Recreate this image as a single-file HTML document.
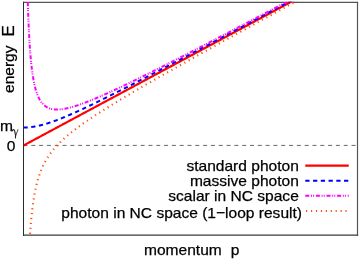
<!DOCTYPE html>
<html><head><meta charset="utf-8"><style>
html,body{margin:0;padding:0;background:#fff;}
svg{display:block;will-change:transform}
text{font-family:"Liberation Sans",sans-serif;font-size:15.55px;fill:#000;stroke:#000;stroke-width:0.25px}
</style></head><body>
<svg width="359" height="260" viewBox="0 0 359 260">
<defs><clipPath id="c"><rect x="23.5" y="1.6999999999999997" width="334.0" height="233.49999999999997"/></clipPath></defs>
<rect width="359" height="260" fill="#fff"/>
<g fill="none">
<path d="M23.0 2.3499999999999996 H358.1" stroke="#555" stroke-width="1.2"/>
<path d="M357.5 1.7999999999999998 V235.79999999999998" stroke="#555" stroke-width="1.2"/>
<path d="M23.0 235.14999999999998 H358.1" stroke="#3a3a3a" stroke-width="1.2"/>
<path d="M23.5 1.7999999999999998 V235.79999999999998" stroke="#2a2a2a" stroke-width="1"/>
</g>
<g clip-path="url(#c)" fill="none" stroke-linejoin="round">
<path d="M23.5 145.4 H357.5" stroke="#000" stroke-opacity="0.6" stroke-width="1" stroke-dasharray="4 3.81"/>
<path d="M23.50 145.50 L24.00 145.23 L24.50 144.96 L25.00 144.69 L25.50 144.43 L26.00 144.16 L26.50 143.89 L27.00 143.62 L27.50 143.35 L28.00 143.08 L28.50 142.81 L29.00 142.55 L29.50 142.28 L30.00 142.01 L30.50 141.74 L31.00 141.47 L31.50 141.20 L32.00 140.94 L32.50 140.67 L33.00 140.40 L33.50 140.13 L34.00 139.86 L34.50 139.59 L35.00 139.32 L35.50 139.06 L36.00 138.79 L36.50 138.52 L37.00 138.25 L37.50 137.98 L38.00 137.71 L38.50 137.44 L39.00 137.18 L39.50 136.91 L40.00 136.64 L40.50 136.37 L41.00 136.10 L41.50 135.83 L42.00 135.57 L42.50 135.30 L43.00 135.03 L43.50 134.76 L44.00 134.49 L44.50 134.22 L45.00 133.95 L45.50 133.69 L46.00 133.42 L46.50 133.15 L47.00 132.88 L47.50 132.61 L48.00 132.34 L48.50 132.07 L49.00 131.81 L49.50 131.54 L50.00 131.27 L50.50 131.00 L51.00 130.73 L51.50 130.46 L52.00 130.20 L52.50 129.93 L53.00 129.66 L53.50 129.39 L54.00 129.12 L54.50 128.85 L55.00 128.58 L55.50 128.32 L56.00 128.05 L56.50 127.78 L57.00 127.51 L57.50 127.24 L58.00 126.97 L58.50 126.70 L59.00 126.44 L59.50 126.17 L60.00 125.90 L60.50 125.63 L61.00 125.36 L61.50 125.09 L62.00 124.83 L62.50 124.56 L63.00 124.29 L63.50 124.02 L64.00 123.75 L64.50 123.48 L65.00 123.21 L65.50 122.95 L66.00 122.68 L66.50 122.41 L67.00 122.14 L67.50 121.87 L68.00 121.60 L68.50 121.33 L69.00 121.07 L69.50 120.80 L70.00 120.53 L70.50 120.26 L71.00 119.99 L71.50 119.72 L72.00 119.46 L72.50 119.19 L73.00 118.92 L73.50 118.65 L74.00 118.38 L74.50 118.11 L75.00 117.84 L75.50 117.58 L76.00 117.31 L76.50 117.04 L77.00 116.77 L77.50 116.50 L78.00 116.23 L78.50 115.97 L79.00 115.70 L79.50 115.43 L80.00 115.16 L80.50 114.89 L81.00 114.62 L81.50 114.35 L82.00 114.09 L82.50 113.82 L83.00 113.55 L83.50 113.28 L84.00 113.01 L84.50 112.74 L85.00 112.47 L85.50 112.21 L86.00 111.94 L86.50 111.67 L87.00 111.40 L87.50 111.13 L88.00 110.86 L88.50 110.59 L89.00 110.33 L89.50 110.06 L90.00 109.79 L90.50 109.52 L91.00 109.25 L91.50 108.98 L92.00 108.72 L92.50 108.45 L93.00 108.18 L93.50 107.91 L94.00 107.64 L94.50 107.37 L95.00 107.10 L95.50 106.84 L96.00 106.57 L96.50 106.30 L97.00 106.03 L97.50 105.76 L98.00 105.49 L98.50 105.22 L99.00 104.96 L99.50 104.69 L100.00 104.42 L100.50 104.15 L101.00 103.88 L101.50 103.61 L102.00 103.35 L102.50 103.08 L103.00 102.81 L103.50 102.54 L104.00 102.27 L104.50 102.00 L105.00 101.73 L105.50 101.47 L106.00 101.20 L106.50 100.93 L107.00 100.66 L107.50 100.39 L108.00 100.12 L108.50 99.85 L109.00 99.59 L109.50 99.32 L110.00 99.05 L110.50 98.78 L111.00 98.51 L111.50 98.24 L112.00 97.98 L112.50 97.71 L113.00 97.44 L113.50 97.17 L114.00 96.90 L114.50 96.63 L115.00 96.36 L115.50 96.10 L116.00 95.83 L116.50 95.56 L117.00 95.29 L117.50 95.02 L118.00 94.75 L118.50 94.48 L119.00 94.22 L119.50 93.95 L120.00 93.68 L120.50 93.41 L121.00 93.14 L121.50 92.87 L122.00 92.61 L122.50 92.34 L123.00 92.07 L123.50 91.80 L124.00 91.53 L124.50 91.26 L125.00 90.99 L125.50 90.73 L126.00 90.46 L126.50 90.19 L127.00 89.92 L127.50 89.65 L128.00 89.38 L128.50 89.11 L129.00 88.85 L129.50 88.58 L130.00 88.31 L130.50 88.04 L131.00 87.77 L131.50 87.50 L132.00 87.24 L132.50 86.97 L133.00 86.70 L133.50 86.43 L134.00 86.16 L134.50 85.89 L135.00 85.62 L135.50 85.36 L136.00 85.09 L136.50 84.82 L137.00 84.55 L137.50 84.28 L138.00 84.01 L138.50 83.75 L139.00 83.48 L139.50 83.21 L140.00 82.94 L140.50 82.67 L141.00 82.40 L141.50 82.13 L142.00 81.87 L142.50 81.60 L143.00 81.33 L143.50 81.06 L144.00 80.79 L144.50 80.52 L145.00 80.25 L145.50 79.99 L146.00 79.72 L146.50 79.45 L147.00 79.18 L147.50 78.91 L148.00 78.64 L148.50 78.38 L149.00 78.11 L149.50 77.84 L150.00 77.57 L150.50 77.30 L151.00 77.03 L151.50 76.76 L152.00 76.50 L152.50 76.23 L153.00 75.96 L153.50 75.69 L154.00 75.42 L154.50 75.15 L155.00 74.88 L155.50 74.62 L156.00 74.35 L156.50 74.08 L157.00 73.81 L157.50 73.54 L158.00 73.27 L158.50 73.00 L159.00 72.74 L159.50 72.47 L160.00 72.20 L160.50 71.93 L161.00 71.66 L161.50 71.39 L162.00 71.13 L162.50 70.86 L163.00 70.59 L163.50 70.32 L164.00 70.05 L164.50 69.78 L165.00 69.51 L165.50 69.25 L166.00 68.98 L166.50 68.71 L167.00 68.44 L167.50 68.17 L168.00 67.90 L168.50 67.63 L169.00 67.37 L169.50 67.10 L170.00 66.83 L170.50 66.56 L171.00 66.29 L171.50 66.02 L172.00 65.76 L172.50 65.49 L173.00 65.22 L173.50 64.95 L174.00 64.68 L174.50 64.41 L175.00 64.14 L175.50 63.88 L176.00 63.61 L176.50 63.34 L177.00 63.07 L177.50 62.80 L178.00 62.53 L178.50 62.27 L179.00 62.00 L179.50 61.73 L180.00 61.46 L180.50 61.19 L181.00 60.92 L181.50 60.65 L182.00 60.39 L182.50 60.12 L183.00 59.85 L183.50 59.58 L184.00 59.31 L184.50 59.04 L185.00 58.77 L185.50 58.51 L186.00 58.24 L186.50 57.97 L187.00 57.70 L187.50 57.43 L188.00 57.16 L188.50 56.89 L189.00 56.63 L189.50 56.36 L190.00 56.09 L190.50 55.82 L191.00 55.55 L191.50 55.28 L192.00 55.02 L192.50 54.75 L193.00 54.48 L193.50 54.21 L194.00 53.94 L194.50 53.67 L195.00 53.40 L195.50 53.14 L196.00 52.87 L196.50 52.60 L197.00 52.33 L197.50 52.06 L198.00 51.79 L198.50 51.52 L199.00 51.26 L199.50 50.99 L200.00 50.72 L200.50 50.45 L201.00 50.18 L201.50 49.91 L202.00 49.65 L202.50 49.38 L203.00 49.11 L203.50 48.84 L204.00 48.57 L204.50 48.30 L205.00 48.03 L205.50 47.77 L206.00 47.50 L206.50 47.23 L207.00 46.96 L207.50 46.69 L208.00 46.42 L208.50 46.15 L209.00 45.89 L209.50 45.62 L210.00 45.35 L210.50 45.08 L211.00 44.81 L211.50 44.54 L212.00 44.28 L212.50 44.01 L213.00 43.74 L213.50 43.47 L214.00 43.20 L214.50 42.93 L215.00 42.66 L215.50 42.40 L216.00 42.13 L216.50 41.86 L217.00 41.59 L217.50 41.32 L218.00 41.05 L218.50 40.78 L219.00 40.52 L219.50 40.25 L220.00 39.98 L220.50 39.71 L221.00 39.44 L221.50 39.17 L222.00 38.91 L222.50 38.64 L223.00 38.37 L223.50 38.10 L224.00 37.83 L224.50 37.56 L225.00 37.29 L225.50 37.03 L226.00 36.76 L226.50 36.49 L227.00 36.22 L227.50 35.95 L228.00 35.68 L228.50 35.41 L229.00 35.15 L229.50 34.88 L230.00 34.61 L230.50 34.34 L231.00 34.07 L231.50 33.80 L232.00 33.54 L232.50 33.27 L233.00 33.00 L233.50 32.73 L234.00 32.46 L234.50 32.19 L235.00 31.92 L235.50 31.66 L236.00 31.39 L236.50 31.12 L237.00 30.85 L237.50 30.58 L238.00 30.31 L238.50 30.04 L239.00 29.78 L239.50 29.51 L240.00 29.24 L240.50 28.97 L241.00 28.70 L241.50 28.43 L242.00 28.17 L242.50 27.90 L243.00 27.63 L243.50 27.36 L244.00 27.09 L244.50 26.82 L245.00 26.55 L245.50 26.29 L246.00 26.02 L246.50 25.75 L247.00 25.48 L247.50 25.21 L248.00 24.94 L248.50 24.67 L249.00 24.41 L249.50 24.14 L250.00 23.87 L250.50 23.60 L251.00 23.33 L251.50 23.06 L252.00 22.80 L252.50 22.53 L253.00 22.26 L253.50 21.99 L254.00 21.72 L254.50 21.45 L255.00 21.18 L255.50 20.92 L256.00 20.65 L256.50 20.38 L257.00 20.11 L257.50 19.84 L258.00 19.57 L258.50 19.30 L259.00 19.04 L259.50 18.77 L260.00 18.50 L260.50 18.23 L261.00 17.96 L261.50 17.69 L262.00 17.43 L262.50 17.16 L263.00 16.89 L263.50 16.62 L264.00 16.35 L264.50 16.08 L265.00 15.81 L265.50 15.55 L266.00 15.28 L266.50 15.01 L267.00 14.74 L267.50 14.47 L268.00 14.20 L268.50 13.94 L269.00 13.67 L269.50 13.40 L270.00 13.13 L270.50 12.86 L271.00 12.59 L271.50 12.32 L272.00 12.06 L272.50 11.79 L273.00 11.52 L273.50 11.25 L274.00 10.98 L274.50 10.71 L275.00 10.44 L275.50 10.18 L276.00 9.91 L276.50 9.64 L277.00 9.37 L277.50 9.10 L278.00 8.83 L278.50 8.56 L279.00 8.30 L279.50 8.03 L280.00 7.76 L280.50 7.49 L281.00 7.22 L281.50 6.95 L282.00 6.69 L282.50 6.42 L283.00 6.15 L283.50 5.88 L284.00 5.61 L284.50 5.34 L285.00 5.07 L285.50 4.81 L286.00 4.54 L286.50 4.27 L287.00 4.00 L287.50 3.73 L288.00 3.46 L288.50 3.19 L289.00 2.93 L289.50 2.66 L290.00 2.39 L290.50 2.12 L291.00 1.85 L291.50 1.58 L292.00 1.32 L292.50 1.05 L293.00 0.78 L293.50 0.51 L294.00 0.24 L294.50 -0.03 L295.00 -0.30 L295.50 -0.56 L296.00 -0.83 L296.50 -1.10 L297.00 -1.37 L297.50 -1.64 L298.00 -1.91 L298.50 -2.18 L299.00 -2.44 L299.50 -2.71 L300.00 -2.98" stroke="#ff0000" stroke-width="2.15"/>
<path d="M23.50 127.51 L24.00 127.51 L24.50 127.50 L25.00 127.49 L25.50 127.48 L26.00 127.46 L26.50 127.44 L27.00 127.41 L27.50 127.38 L28.00 127.35 L28.50 127.31 L29.00 127.27 L29.50 127.22 L30.00 127.17 L30.50 127.12 L31.00 127.07 L31.50 127.00 L32.00 126.94 L32.50 126.87 L33.00 126.80 L33.50 126.73 L34.00 126.65 L34.50 126.57 L35.00 126.48 L35.50 126.39 L36.00 126.30 L36.50 126.20 L37.00 126.10 L37.50 126.00 L38.00 125.90 L38.50 125.79 L39.00 125.68 L39.50 125.56 L40.00 125.45 L40.50 125.33 L41.00 125.20 L41.50 125.08 L42.00 124.95 L42.50 124.82 L43.00 124.68 L43.50 124.55 L44.00 124.41 L44.50 124.27 L45.00 124.12 L45.50 123.98 L46.00 123.83 L46.50 123.68 L47.00 123.53 L47.50 123.37 L48.00 123.21 L48.50 123.05 L49.00 122.89 L49.50 122.73 L50.00 122.56 L50.50 122.39 L51.00 122.23 L51.50 122.05 L52.00 121.88 L52.50 121.71 L53.00 121.53 L53.50 121.35 L54.00 121.17 L54.50 120.99 L55.00 120.81 L55.50 120.62 L56.00 120.44 L56.50 120.25 L57.00 120.06 L57.50 119.87 L58.00 119.68 L58.50 119.48 L59.00 119.29 L59.50 119.09 L60.00 118.90 L60.50 118.70 L61.00 118.50 L61.50 118.30 L62.00 118.09 L62.50 117.89 L63.00 117.69 L63.50 117.48 L64.00 117.28 L64.50 117.07 L65.00 116.86 L65.50 116.65 L66.00 116.44 L66.50 116.23 L67.00 116.02 L67.50 115.80 L68.00 115.59 L68.50 115.37 L69.00 115.16 L69.50 114.94 L70.00 114.72 L70.50 114.51 L71.00 114.29 L71.50 114.07 L72.00 113.85 L72.50 113.63 L73.00 113.40 L73.50 113.18 L74.00 112.96 L74.50 112.73 L75.00 112.51 L75.50 112.28 L76.00 112.06 L76.50 111.83 L77.00 111.60 L77.50 111.38 L78.00 111.15 L78.50 110.92 L79.00 110.69 L79.50 110.46 L80.00 110.23 L80.50 110.00 L81.00 109.76 L81.50 109.53 L82.00 109.30 L82.50 109.07 L83.00 108.83 L83.50 108.60 L84.00 108.36 L84.50 108.13 L85.00 107.89 L85.50 107.66 L86.00 107.42 L86.50 107.18 L87.00 106.95 L87.50 106.71 L88.00 106.47 L88.50 106.23 L89.00 105.99 L89.50 105.75 L90.00 105.51 L90.50 105.27 L91.00 105.03 L91.50 104.79 L92.00 104.55 L92.50 104.31 L93.00 104.07 L93.50 103.83 L94.00 103.58 L94.50 103.34 L95.00 103.10 L95.50 102.86 L96.00 102.61 L96.50 102.37 L97.00 102.12 L97.50 101.88 L98.00 101.63 L98.50 101.39 L99.00 101.14 L99.50 100.90 L100.00 100.65 L100.50 100.41 L101.00 100.16 L101.50 99.91 L102.00 99.67 L102.50 99.42 L103.00 99.17 L103.50 98.93 L104.00 98.68 L104.50 98.43 L105.00 98.18 L105.50 97.93 L106.00 97.68 L106.50 97.44 L107.00 97.19 L107.50 96.94 L108.00 96.69 L108.50 96.44 L109.00 96.19 L109.50 95.94 L110.00 95.69 L110.50 95.44 L111.00 95.19 L111.50 94.94 L112.00 94.68 L112.50 94.43 L113.00 94.18 L113.50 93.93 L114.00 93.68 L114.50 93.43 L115.00 93.17 L115.50 92.92 L116.00 92.67 L116.50 92.42 L117.00 92.17 L117.50 91.91 L118.00 91.66 L118.50 91.41 L119.00 91.15 L119.50 90.90 L120.00 90.65 L120.50 90.39 L121.00 90.14 L121.50 89.88 L122.00 89.63 L122.50 89.38 L123.00 89.12 L123.50 88.87 L124.00 88.61 L124.50 88.36 L125.00 88.10 L125.50 87.85 L126.00 87.59 L126.50 87.34 L127.00 87.08 L127.50 86.83 L128.00 86.57 L128.50 86.31 L129.00 86.06 L129.50 85.80 L130.00 85.55 L130.50 85.29 L131.00 85.03 L131.50 84.78 L132.00 84.52 L132.50 84.26 L133.00 84.01 L133.50 83.75 L134.00 83.49 L134.50 83.24 L135.00 82.98 L135.50 82.72 L136.00 82.47 L136.50 82.21 L137.00 81.95 L137.50 81.69 L138.00 81.44 L138.50 81.18 L139.00 80.92 L139.50 80.66 L140.00 80.40 L140.50 80.15 L141.00 79.89 L141.50 79.63 L142.00 79.37 L142.50 79.11 L143.00 78.85 L143.50 78.60 L144.00 78.34 L144.50 78.08 L145.00 77.82 L145.50 77.56 L146.00 77.30 L146.50 77.04 L147.00 76.78 L147.50 76.52 L148.00 76.27 L148.50 76.01 L149.00 75.75 L149.50 75.49 L150.00 75.23 L150.50 74.97 L151.00 74.71 L151.50 74.45 L152.00 74.19 L152.50 73.93 L153.00 73.67 L153.50 73.41 L154.00 73.15 L154.50 72.89 L155.00 72.63 L155.50 72.37 L156.00 72.11 L156.50 71.85 L157.00 71.59 L157.50 71.33 L158.00 71.07 L158.50 70.81 L159.00 70.55 L159.50 70.29 L160.00 70.02 L160.50 69.76 L161.00 69.50 L161.50 69.24 L162.00 68.98 L162.50 68.72 L163.00 68.46 L163.50 68.20 L164.00 67.94 L164.50 67.68 L165.00 67.41 L165.50 67.15 L166.00 66.89 L166.50 66.63 L167.00 66.37 L167.50 66.11 L168.00 65.85 L168.50 65.58 L169.00 65.32 L169.50 65.06 L170.00 64.80 L170.50 64.54 L171.00 64.28 L171.50 64.01 L172.00 63.75 L172.50 63.49 L173.00 63.23 L173.50 62.97 L174.00 62.70 L174.50 62.44 L175.00 62.18 L175.50 61.92 L176.00 61.65 L176.50 61.39 L177.00 61.13 L177.50 60.87 L178.00 60.61 L178.50 60.34 L179.00 60.08 L179.50 59.82 L180.00 59.56 L180.50 59.29 L181.00 59.03 L181.50 58.77 L182.00 58.51 L182.50 58.24 L183.00 57.98 L183.50 57.72 L184.00 57.45 L184.50 57.19 L185.00 56.93 L185.50 56.67 L186.00 56.40 L186.50 56.14 L187.00 55.88 L187.50 55.61 L188.00 55.35 L188.50 55.09 L189.00 54.82 L189.50 54.56 L190.00 54.30 L190.50 54.03 L191.00 53.77 L191.50 53.51 L192.00 53.24 L192.50 52.98 L193.00 52.72 L193.50 52.45 L194.00 52.19 L194.50 51.93 L195.00 51.66 L195.50 51.40 L196.00 51.14 L196.50 50.87 L197.00 50.61 L197.50 50.35 L198.00 50.08 L198.50 49.82 L199.00 49.55 L199.50 49.29 L200.00 49.03 L200.50 48.76 L201.00 48.50 L201.50 48.24 L202.00 47.97 L202.50 47.71 L203.00 47.44 L203.50 47.18 L204.00 46.92 L204.50 46.65 L205.00 46.39 L205.50 46.12 L206.00 45.86 L206.50 45.60 L207.00 45.33 L207.50 45.07 L208.00 44.80 L208.50 44.54 L209.00 44.28 L209.50 44.01 L210.00 43.75 L210.50 43.48 L211.00 43.22 L211.50 42.95 L212.00 42.69 L212.50 42.43 L213.00 42.16 L213.50 41.90 L214.00 41.63 L214.50 41.37 L215.00 41.10 L215.50 40.84 L216.00 40.57 L216.50 40.31 L217.00 40.04 L217.50 39.78 L218.00 39.52 L218.50 39.25 L219.00 38.99 L219.50 38.72 L220.00 38.46 L220.50 38.19 L221.00 37.93 L221.50 37.66 L222.00 37.40 L222.50 37.13 L223.00 36.87 L223.50 36.60 L224.00 36.34 L224.50 36.07 L225.00 35.81 L225.50 35.54 L226.00 35.28 L226.50 35.01 L227.00 34.75 L227.50 34.48 L228.00 34.22 L228.50 33.95 L229.00 33.69 L229.50 33.42 L230.00 33.16 L230.50 32.89 L231.00 32.63 L231.50 32.36 L232.00 32.10 L232.50 31.83 L233.00 31.57 L233.50 31.30 L234.00 31.04 L234.50 30.77 L235.00 30.51 L235.50 30.24 L236.00 29.98 L236.50 29.71 L237.00 29.45 L237.50 29.18 L238.00 28.92 L238.50 28.65 L239.00 28.39 L239.50 28.12 L240.00 27.86 L240.50 27.59 L241.00 27.33 L241.50 27.06 L242.00 26.79 L242.50 26.53 L243.00 26.26 L243.50 26.00 L244.00 25.73 L244.50 25.47 L245.00 25.20 L245.50 24.94 L246.00 24.67 L246.50 24.41 L247.00 24.14 L247.50 23.87 L248.00 23.61 L248.50 23.34 L249.00 23.08 L249.50 22.81 L250.00 22.55 L250.50 22.28 L251.00 22.02 L251.50 21.75 L252.00 21.48 L252.50 21.22 L253.00 20.95 L253.50 20.69 L254.00 20.42 L254.50 20.16 L255.00 19.89 L255.50 19.62 L256.00 19.36 L256.50 19.09 L257.00 18.83 L257.50 18.56 L258.00 18.30 L258.50 18.03 L259.00 17.76 L259.50 17.50 L260.00 17.23 L260.50 16.97 L261.00 16.70 L261.50 16.43 L262.00 16.17 L262.50 15.90 L263.00 15.64 L263.50 15.37 L264.00 15.10 L264.50 14.84 L265.00 14.57 L265.50 14.31 L266.00 14.04 L266.50 13.77 L267.00 13.51 L267.50 13.24 L268.00 12.98 L268.50 12.71 L269.00 12.44 L269.50 12.18 L270.00 11.91 L270.50 11.65 L271.00 11.38 L271.50 11.11 L272.00 10.85 L272.50 10.58 L273.00 10.32 L273.50 10.05 L274.00 9.78 L274.50 9.52 L275.00 9.25 L275.50 8.99 L276.00 8.72 L276.50 8.45 L277.00 8.19 L277.50 7.92 L278.00 7.65 L278.50 7.39 L279.00 7.12 L279.50 6.86 L280.00 6.59 L280.50 6.32 L281.00 6.06 L281.50 5.79 L282.00 5.52 L282.50 5.26 L283.00 4.99 L283.50 4.73 L284.00 4.46 L284.50 4.19 L285.00 3.93 L285.50 3.66 L286.00 3.39 L286.50 3.13 L287.00 2.86 L287.50 2.60 L288.00 2.33 L288.50 2.06 L289.00 1.80 L289.50 1.53 L290.00 1.26 L290.50 1.00 L291.00 0.73 L291.50 0.46 L292.00 0.20 L292.50 -0.07 L293.00 -0.34 L293.50 -0.60 L294.00 -0.87 L294.50 -1.13 L295.00 -1.40 L295.50 -1.67 L296.00 -1.93 L296.50 -2.20 L297.00 -2.47 L297.50 -2.73 L298.00 -3.00 L298.50 -3.27 L299.00 -3.53 L299.50 -3.80 L300.00 -4.07" stroke="#0000ff" stroke-width="2" stroke-dasharray="4.25 3.5"/>
<path d="M27.78 2.30 L27.88 5.47 L27.98 8.49 L28.08 11.37 L28.18 14.14 L28.28 16.78 L28.38 19.31 L28.48 21.74 L28.58 24.07 L28.68 26.31 L28.78 28.46 L28.88 30.53 L28.98 32.53 L29.08 34.45 L29.18 36.30 L29.28 38.08 L29.38 39.80 L29.48 41.46 L29.58 43.07 L29.68 44.62 L29.78 46.12 L29.88 47.57 L29.98 48.98 L30.08 50.34 L30.18 51.66 L30.28 52.94 L30.38 54.18 L30.48 55.38 L30.58 56.54 L30.68 57.68 L30.78 58.78 L30.88 59.85 L30.98 60.88 L31.08 61.89 L31.18 62.88 L31.28 63.83 L31.38 64.76 L31.48 65.67 L31.58 66.55 L31.68 67.41 L31.78 68.25 L31.88 69.06 L31.98 69.86 L32.08 70.63 L32.18 71.39 L32.28 72.12 L32.38 72.84 L32.48 73.55 L32.58 74.23 L32.68 74.90 L32.78 75.56 L32.88 76.20 L32.98 76.82 L33.08 77.43 L33.18 78.03 L33.28 78.61 L33.38 79.18 L33.48 79.74 L33.58 80.28 L33.68 80.82 L33.78 81.34 L33.88 81.85 L33.98 82.35 L34.08 82.84 L34.18 83.32 L34.28 83.79 L34.38 84.25 L34.48 84.70 L34.58 85.15 L34.68 85.58 L34.78 86.00 L34.88 86.42 L34.98 86.83 L35.08 87.23 L35.18 87.62 L35.28 88.00 L35.38 88.38 L35.48 88.75 L35.58 89.11 L35.68 89.47 L35.78 89.82 L35.88 90.16 L35.98 90.50 L36.08 90.83 L36.18 91.15 L36.28 91.47 L36.38 91.78 L36.48 92.09 L36.58 92.39 L36.68 92.69 L36.78 92.98 L36.88 93.27 L36.98 93.55 L37.08 93.82 L37.18 94.09 L37.28 94.36 L37.38 94.62 L37.48 94.88 L37.58 95.13 L37.68 95.38 L37.78 95.62 L37.88 95.86 L37.98 96.10 L38.08 96.33 L38.18 96.56 L38.28 96.78 L38.38 97.00 L38.48 97.22 L38.58 97.43 L38.68 97.64 L38.78 97.85 L38.88 98.05 L38.98 98.25 L39.08 98.45 L39.18 98.64 L39.28 98.83 L39.38 99.02 L39.48 99.20 L39.58 99.38 L39.68 99.56 L39.78 99.73 L39.88 99.91 L39.98 100.08 L40.08 100.24 L40.18 100.41 L40.28 100.57 L40.38 100.73 L40.48 100.89 L40.58 101.04 L40.68 101.19 L40.78 101.34 L40.88 101.49 L40.98 101.63 L41.08 101.78 L41.18 101.92 L41.28 102.05 L41.38 102.19 L41.48 102.32 L41.58 102.45 L41.68 102.58 L41.78 102.71 L41.88 102.84 L41.98 102.96 L42.08 103.08 L42.18 103.20 L42.28 103.32 L42.38 103.44 L42.48 103.55 L42.58 103.67 L42.68 103.78 L42.78 103.89 L42.88 103.99 L42.98 104.10 L43.08 104.20 L43.18 104.31 L43.28 104.41 L43.38 104.51 L43.48 104.61 L43.58 104.70 L43.68 104.80 L43.78 104.89 L43.88 104.98 L43.98 105.07 L44.08 105.16 L44.18 105.25 L44.28 105.34 L44.38 105.42 L44.48 105.51 L44.58 105.59 L44.68 105.67 L44.78 105.75 L44.88 105.83 L44.98 105.91 L45.08 105.98 L45.18 106.06 L45.28 106.13 L45.38 106.20 L45.48 106.28 L45.58 106.35 L45.68 106.42 L45.78 106.48 L45.88 106.55 L45.98 106.62 L46.08 106.68 L46.18 106.75 L46.28 106.81 L46.38 106.87 L46.48 106.93 L46.58 106.99 L46.68 107.05 L46.78 107.11 L46.88 107.17 L46.98 107.22 L47.08 107.28 L47.18 107.33 L47.28 107.39 L47.38 107.44 L47.48 107.49 L47.58 107.54 L47.68 107.59 L47.78 107.64 L47.88 107.69 L47.98 107.73 L48.08 107.78 L48.18 107.83 L48.28 107.87 L48.38 107.92 L48.48 107.96 L48.58 108.00 L48.68 108.04 L48.78 108.08 L48.88 108.12 L48.98 108.16 L49.08 108.20 L49.18 108.24 L49.28 108.28 L49.38 108.32 L49.48 108.35 L49.58 108.39 L49.68 108.42 L49.78 108.45 L49.88 108.49 L49.98 108.52 L50.08 108.55 L50.18 108.58 L50.28 108.61 L50.38 108.64 L50.48 108.67 L50.58 108.70 L50.68 108.73 L50.78 108.76 L50.88 108.79 L50.98 108.81 L51.08 108.84 L51.18 108.86 L51.28 108.89 L51.38 108.91 L51.48 108.94 L51.58 108.96 L51.68 108.98 L51.78 109.00 L51.88 109.02 L51.98 109.05 L52.08 109.07 L52.18 109.09 L52.28 109.10 L52.38 109.12 L52.48 109.14 L52.58 109.16 L52.68 109.18 L52.78 109.19 L52.88 109.21 L52.98 109.23 L53.08 109.24 L53.18 109.26 L53.28 109.27 L53.38 109.29 L53.48 109.30 L53.58 109.31 L53.68 109.32 L53.78 109.34 L53.88 109.35 L53.98 109.36 L54.08 109.37 L54.18 109.38 L54.28 109.39 L54.38 109.40 L54.48 109.41 L54.58 109.42 L54.68 109.43 L54.78 109.44 L54.88 109.44 L54.98 109.45 L55.08 109.46 L55.18 109.46 L55.28 109.47 L55.38 109.48 L55.48 109.48 L55.58 109.49 L55.68 109.49 L55.78 109.50 L55.88 109.50 L55.98 109.50 L56.08 109.51 L56.18 109.51 L56.28 109.51 L56.38 109.51 L56.48 109.52 L56.58 109.52 L56.68 109.52 L56.78 109.52 L56.88 109.52 L56.98 109.52 L57.08 109.52 L57.18 109.52 L57.28 109.52 L57.38 109.52 L57.48 109.52 L57.58 109.52 L57.68 109.51 L57.78 109.51 L57.88 109.51 L57.98 109.51 L58.08 109.50 L58.18 109.50 L58.28 109.50 L58.38 109.49 L58.48 109.49 L58.58 109.48 L58.68 109.48 L58.78 109.47 L58.88 109.47 L58.98 109.46 L59.08 109.46 L59.18 109.45 L59.28 109.44 L59.38 109.44 L59.48 109.43 L59.58 109.42 L59.68 109.41 L59.78 109.41 L59.88 109.40 L59.98 109.39 L60.08 109.38 L60.18 109.37 L60.28 109.36 L60.38 109.35 L60.48 109.35 L60.58 109.34 L60.68 109.33 L60.78 109.32 L60.88 109.31 L60.98 109.29 L61.08 109.28 L61.18 109.27 L61.28 109.26 L61.38 109.25 L61.48 109.24 L61.58 109.23 L61.68 109.21 L61.78 109.20 L61.88 109.19 L61.98 109.18 L62.08 109.16 L62.18 109.15 L62.28 109.14 L62.38 109.12 L62.48 109.11 L62.58 109.09 L62.68 109.08 L62.78 109.06 L62.88 109.05 L62.98 109.04 L63.08 109.02 L63.18 109.00 L63.28 108.99 L63.38 108.97 L63.48 108.96 L63.58 108.94 L63.68 108.93 L63.78 108.91 L63.88 108.89 L63.98 108.88 L64.08 108.86 L64.18 108.84 L64.28 108.82 L64.38 108.81 L64.48 108.79 L64.58 108.77 L64.68 108.75 L64.78 108.73 L64.88 108.72 L64.98 108.70 L65.08 108.68 L65.18 108.66 L65.28 108.64 L65.38 108.62 L65.48 108.60 L65.58 108.58 L65.68 108.56 L65.78 108.54 L65.88 108.52 L65.98 108.50 L66.08 108.48 L66.18 108.46 L66.28 108.44 L66.38 108.42 L66.48 108.40 L66.58 108.38 L66.68 108.36 L66.78 108.33 L66.88 108.31 L66.98 108.29 L67.08 108.27 L67.18 108.25 L67.28 108.23 L67.38 108.20 L67.48 108.18 L67.58 108.16 L67.68 108.14 L67.78 108.11 L67.88 108.09 L67.98 108.07 L68.08 108.04 L68.18 108.02 L68.28 108.00 L68.38 107.97 L68.48 107.95 L68.58 107.92 L68.68 107.90 L68.78 107.88 L68.88 107.85 L68.98 107.83 L69.08 107.80 L69.18 107.78 L69.28 107.75 L69.38 107.73 L69.48 107.70 L69.58 107.68 L69.68 107.65 L69.78 107.63 L69.88 107.60 L69.98 107.58 L70.08 107.55 L70.18 107.52 L70.28 107.50 L70.38 107.47 L70.48 107.44 L70.58 107.42 L70.68 107.39 L70.78 107.37 L70.88 107.34 L70.98 107.31 L71.08 107.28 L71.18 107.26 L71.28 107.23 L71.38 107.20 L71.48 107.18 L71.58 107.15 L71.68 107.12 L71.78 107.09 L71.88 107.06 L71.98 107.04 L72.08 107.01 L72.18 106.98 L72.28 106.95 L72.38 106.92 L72.48 106.89 L72.58 106.87 L72.68 106.84 L72.78 106.81 L72.88 106.78 L72.98 106.75 L73.08 106.72 L73.18 106.69 L73.28 106.66 L73.38 106.63 L73.48 106.60 L73.58 106.57 L73.68 106.54 L73.78 106.51 L73.88 106.48 L73.98 106.45 L74.08 106.42 L74.18 106.39 L74.28 106.36 L74.38 106.33 L74.48 106.30 L74.58 106.27 L74.68 106.24 L74.78 106.21 L74.88 106.18 L74.98 106.15 L75.08 106.12 L75.18 106.09 L75.28 106.06 L75.38 106.03 L75.48 105.99 L75.58 105.96 L75.68 105.93 L75.78 105.90 L75.88 105.87 L75.98 105.84 L76.08 105.80 L76.18 105.77 L76.28 105.74 L76.38 105.71 L76.48 105.68 L76.58 105.64 L76.68 105.61 L76.78 105.58 L76.88 105.55 L76.98 105.51 L77.08 105.48 L77.18 105.45 L77.28 105.42 L77.38 105.38 L77.48 105.35 L77.58 105.32 L77.68 105.28 L77.78 105.25 L77.88 105.22 L77.98 105.18 L78.08 105.15 L78.18 105.12 L78.28 105.08 L78.38 105.05 L78.48 105.02 L78.58 104.98 L78.68 104.95 L78.78 104.91 L78.88 104.88 L78.98 104.85 L79.08 104.81 L79.18 104.78 L79.28 104.74 L79.38 104.71 L79.48 104.67 L79.58 104.64 L79.68 104.61 L79.78 104.57 L79.88 104.54 L79.98 104.50 L80.08 104.47 L80.18 104.43 L80.28 104.40 L80.38 104.36 L80.48 104.33 L80.58 104.29 L80.68 104.26 L80.78 104.22 L80.88 104.19 L80.98 104.15 L81.08 104.11 L81.18 104.08 L81.28 104.04 L81.38 104.01 L81.48 103.97 L81.58 103.94 L81.68 103.90 L81.78 103.86 L81.88 103.83 L81.98 103.79 L82.08 103.76 L82.18 103.72 L82.28 103.68 L82.38 103.65 L82.48 103.61 L82.58 103.57 L82.68 103.54 L82.78 103.50 L82.88 103.47 L82.98 103.43 L83.08 103.39 L83.18 103.35 L83.28 103.32 L83.38 103.28 L83.48 103.24 L83.58 103.21 L83.68 103.17 L83.78 103.13 L83.88 103.10 L83.98 103.06 L84.08 103.02 L84.18 102.98 L84.28 102.95 L84.38 102.91 L84.48 102.87 L84.58 102.83 L84.68 102.80 L84.78 102.76 L84.88 102.72 L84.98 102.68 L85.08 102.65 L85.18 102.61 L85.28 102.57 L85.38 102.53 L85.48 102.49 L85.58 102.46 L85.68 102.42 L85.78 102.38 L85.88 102.34 L85.98 102.30 L86.08 102.27 L86.18 102.23 L86.28 102.19 L86.38 102.15 L86.48 102.11 L86.58 102.07 L86.68 102.03 L86.78 102.00 L86.88 101.96 L86.98 101.92 L87.08 101.88 L87.18 101.84 L87.28 101.80 L87.38 101.76 L87.48 101.72 L87.58 101.69 L87.68 101.65 L87.78 101.61 L87.88 101.57 L87.98 101.53 L88.08 101.49 L88.18 101.45 L88.28 101.41 L88.38 101.37 L88.48 101.33 L88.58 101.29 L88.68 101.25 L88.78 101.21 L88.88 101.17 L88.98 101.13 L89.08 101.10 L89.18 101.06 L89.28 101.02 L89.38 100.98 L89.48 100.94 L89.58 100.90 L89.68 100.86 L89.78 100.82 L89.88 100.78 L89.98 100.74 L90.08 100.70 L90.18 100.66 L90.28 100.62 L90.38 100.58 L90.48 100.54 L90.58 100.50 L90.68 100.45 L90.78 100.41 L90.88 100.37 L90.98 100.33 L91.08 100.29 L91.18 100.25 L91.28 100.21 L91.38 100.17 L91.48 100.13 L91.58 100.09 L91.68 100.05 L91.78 100.01 L91.88 99.97 L91.98 99.93 L92.08 99.89 L92.18 99.85 L92.28 99.80 L92.38 99.76 L92.48 99.72 L92.58 99.68 L92.68 99.64 L92.78 99.60 L92.88 99.56 L92.98 99.52 L93.08 99.48 L93.18 99.43 L93.28 99.39 L93.38 99.35 L93.48 99.31 L93.58 99.27 L93.68 99.23 L93.78 99.19 L93.88 99.14 L93.98 99.10 L94.08 99.06 L94.18 99.02 L94.28 98.98 L94.38 98.94 L94.48 98.89 L94.58 98.85 L94.68 98.81 L94.78 98.77 L94.88 98.73 L94.98 98.69 L95.08 98.64 L95.18 98.60 L95.28 98.56 L95.38 98.52 L95.48 98.48 L95.58 98.43 L95.68 98.39 L95.78 98.35 L95.88 98.31 L95.98 98.26 L96.08 98.22 L96.18 98.18 L96.28 98.14 L96.38 98.10 L96.48 98.05 L96.58 98.01 L96.68 97.97 L96.78 97.93 L96.88 97.88 L96.98 97.84 L97.08 97.80 L97.18 97.76 L97.28 97.71 L97.38 97.67 L97.48 97.63 L97.58 97.59 L97.68 97.54 L97.78 97.50 L97.88 97.46 L97.98 97.41 L98.08 97.37 L98.18 97.33 L98.28 97.29 L98.38 97.24 L98.48 97.20 L98.58 97.16 L98.68 97.11 L98.78 97.07 L98.88 97.03 L98.98 96.98 L99.08 96.94 L99.18 96.90 L99.28 96.85 L99.38 96.81 L99.48 96.77 L99.58 96.73 L99.68 96.68 L99.78 96.64 L99.88 96.60 L99.98 96.55 L100.08 96.51 L100.18 96.46 L100.28 96.42 L100.38 96.38 L100.48 96.33 L100.58 96.29 L100.68 96.25 L100.78 96.20 L100.88 96.16 L100.98 96.12 L101.08 96.07 L101.18 96.03 L101.28 95.99 L101.38 95.94 L101.48 95.90 L101.58 95.85 L101.68 95.81 L101.78 95.77 L101.88 95.72 L101.98 95.68 L102.08 95.63 L102.18 95.59 L102.28 95.55 L102.38 95.50 L102.48 95.46 L102.58 95.41 L102.68 95.37 L102.78 95.33 L102.88 95.28 L102.98 95.24 L103.08 95.19 L103.18 95.15 L103.28 95.11 L103.38 95.06 L103.48 95.02 L103.58 94.97 L103.68 94.93 L103.78 94.88 L103.88 94.84 L103.98 94.80 L104.08 94.75 L104.18 94.71 L104.28 94.66 L104.38 94.62 L104.48 94.57 L104.58 94.53 L104.68 94.48 L104.78 94.44 L104.88 94.39 L104.98 94.35 L105.08 94.31 L105.18 94.26 L105.28 94.22 L105.38 94.17 L105.48 94.13 L105.58 94.08 L105.68 94.04 L105.78 93.99 L105.88 93.95 L105.98 93.90 L106.08 93.86 L106.18 93.81 L106.28 93.77 L106.38 93.72 L106.48 93.68 L106.58 93.63 L106.68 93.59 L106.78 93.54 L106.88 93.50 L106.98 93.45 L107.08 93.41 L107.18 93.36 L107.28 93.32 L107.38 93.27 L107.48 93.23 L107.58 93.18 L107.68 93.14 L107.78 93.09 L107.88 93.05 L107.98 93.00 L108.08 92.96 L108.18 92.91 L108.28 92.87 L108.38 92.82 L108.48 92.78 L108.58 92.73 L108.68 92.68 L108.78 92.64 L108.88 92.59 L108.98 92.55 L109.08 92.50 L109.18 92.46 L109.28 92.41 L109.38 92.37 L109.48 92.32 L109.58 92.28 L109.68 92.23 L109.78 92.18 L109.88 92.14 L109.98 92.09 L110.08 92.05 L110.18 92.00 L110.28 91.96 L110.38 91.91 L110.48 91.86 L110.58 91.82 L110.68 91.77 L110.78 91.73 L110.88 91.68 L110.98 91.64 L111.08 91.59 L111.18 91.54 L111.28 91.50 L111.38 91.45 L111.48 91.41 L111.58 91.36 L111.68 91.31 L111.78 91.27 L111.88 91.22 L111.98 91.18 L112.08 91.13 L112.18 91.08 L112.28 91.04 L112.38 90.99 L112.48 90.95 L112.58 90.90 L112.68 90.85 L112.78 90.81 L112.88 90.76 L112.98 90.72 L113.08 90.67 L113.18 90.62 L113.28 90.58 L113.38 90.53 L113.48 90.48 L113.58 90.44 L113.68 90.39 L113.78 90.35 L113.88 90.30 L113.98 90.25 L114.08 90.21 L114.18 90.16 L114.28 90.11 L114.38 90.07 L114.48 90.02 L114.58 89.97 L114.68 89.93 L114.78 89.88 L114.88 89.84 L114.98 89.79 L115.08 89.74 L115.18 89.70 L115.28 89.65 L115.38 89.60 L115.48 89.56 L115.58 89.51 L115.68 89.46 L115.78 89.42 L115.88 89.37 L115.98 89.32 L116.08 89.28 L116.18 89.23 L116.28 89.18 L116.38 89.14 L116.48 89.09 L116.58 89.04 L116.68 89.00 L116.78 88.95 L116.88 88.90 L116.98 88.86 L117.08 88.81 L117.18 88.76 L117.28 88.72 L117.38 88.67 L117.48 88.62 L117.58 88.57 L117.68 88.53 L117.78 88.48 L117.88 88.43 L117.98 88.39 L118.08 88.34 L118.18 88.29 L118.28 88.25 L118.38 88.20 L118.48 88.15 L118.58 88.11 L118.68 88.06 L118.78 88.01 L118.88 87.96 L118.98 87.92 L119.08 87.87 L119.18 87.82 L119.28 87.78 L119.38 87.73 L119.48 87.68 L119.58 87.63 L119.68 87.59 L119.78 87.54 L119.88 87.49 L119.98 87.45 L120.08 87.40 L120.18 87.35 L120.28 87.30 L120.38 87.26 L120.48 87.21 L120.58 87.16 L120.68 87.11 L120.78 87.07 L120.88 87.02 L120.98 86.97 L121.08 86.93 L121.18 86.88 L121.28 86.83 L121.38 86.78 L121.48 86.74 L121.58 86.69 L121.68 86.64 L121.78 86.59 L121.88 86.55 L121.98 86.50 L122.08 86.45 L122.18 86.40 L122.28 86.36 L122.38 86.31 L122.48 86.26 L122.58 86.21 L122.68 86.17 L122.78 86.12 L122.88 86.07 L122.98 86.02 L123.08 85.98 L123.18 85.93 L123.28 85.88 L123.38 85.83 L123.48 85.78 L123.58 85.74 L123.68 85.69 L123.78 85.64 L123.88 85.59 L123.98 85.55 L124.08 85.50 L124.18 85.45 L124.28 85.40 L124.38 85.35 L124.48 85.31 L124.58 85.26 L124.68 85.21 L124.78 85.16 L124.88 85.12 L124.98 85.07 L125.08 85.02 L125.18 84.97 L125.28 84.92 L125.38 84.88 L125.48 84.83 L125.58 84.78 L125.68 84.73 L125.78 84.68 L125.88 84.64 L125.98 84.59 L126.08 84.54 L126.18 84.49 L126.28 84.45 L126.38 84.40 L126.48 84.35 L126.58 84.30 L126.68 84.25 L126.78 84.20 L126.88 84.16 L126.98 84.11 L127.08 84.06 L127.18 84.01 L127.28 83.96 L127.38 83.92 L127.48 83.87 L127.58 83.82 L127.68 83.77 L127.78 83.72 L127.88 83.68 L127.98 83.63 L128.08 83.58 L128.18 83.53 L128.28 83.48 L128.38 83.43 L128.48 83.39 L128.58 83.34 L128.68 83.29 L128.78 83.24 L128.88 83.19 L128.98 83.15 L129.08 83.10 L129.18 83.05 L129.28 83.00 L129.38 82.95 L129.48 82.90 L129.58 82.86 L129.68 82.81 L129.78 82.76 L129.88 82.71 L129.98 82.66 L130.08 82.61 L130.18 82.57 L130.28 82.52 L130.38 82.47 L130.48 82.42 L130.58 82.37 L130.68 82.32 L130.78 82.27 L130.88 82.23 L130.98 82.18 L131.08 82.13 L131.18 82.08 L131.28 82.03 L131.38 81.98 L131.48 81.94 L131.58 81.89 L131.68 81.84 L131.78 81.79 L131.88 81.74 L131.98 81.69 L132.08 81.64 L132.18 81.60 L132.28 81.55 L132.38 81.50 L132.48 81.45 L132.58 81.40 L132.68 81.35 L132.78 81.30 L132.88 81.25 L132.98 81.21 L133.08 81.16 L133.18 81.11 L133.28 81.06 L133.38 81.01 L133.48 80.96 L133.58 80.91 L133.68 80.87 L133.78 80.82 L133.88 80.77 L133.98 80.72 L134.08 80.67 L134.18 80.62 L134.28 80.57 L134.38 80.52 L134.48 80.47 L134.58 80.43 L134.68 80.38 L134.78 80.33 L134.88 80.28 L134.98 80.23 L135.08 80.18 L135.18 80.13 L135.28 80.08 L135.38 80.04 L135.48 79.99 L135.58 79.94 L135.68 79.89 L135.78 79.84 L135.88 79.79 L135.98 79.74 L136.08 79.69 L136.18 79.64 L136.28 79.60 L136.38 79.55 L136.48 79.50 L136.58 79.45 L136.68 79.40 L136.78 79.35 L136.88 79.30 L136.98 79.25 L137.08 79.20 L137.18 79.15 L137.28 79.10 L137.38 79.06 L137.48 79.01 L137.58 78.96 L137.68 78.91 L137.78 78.86 L137.88 78.81 L137.98 78.76 L138.08 78.71 L138.18 78.66 L138.28 78.61 L138.38 78.57 L138.48 78.52 L138.58 78.47 L138.68 78.42 L138.78 78.37 L138.88 78.32 L138.98 78.27 L139.08 78.22 L139.18 78.17 L139.28 78.12 L139.38 78.07 L139.48 78.02 L139.58 77.97 L139.68 77.93 L139.78 77.88 L139.88 77.83 L139.98 77.78 L140.08 77.73 L140.18 77.68 L140.28 77.63 L140.38 77.58 L140.48 77.53 L140.58 77.48 L140.68 77.43 L140.78 77.38 L140.88 77.33 L140.98 77.28 L141.08 77.24 L141.18 77.19 L141.28 77.14 L141.38 77.09 L141.48 77.04 L141.58 76.99 L141.68 76.94 L141.78 76.89 L141.88 76.84 L141.98 76.79 L142.08 76.74 L142.18 76.69 L142.28 76.64 L142.38 76.59 L142.48 76.54 L142.58 76.49 L142.68 76.45 L142.78 76.40 L142.88 76.35 L142.98 76.30 L143.08 76.25 L143.18 76.20 L143.28 76.15 L143.38 76.10 L143.48 76.05 L143.58 76.00 L143.68 75.95 L143.78 75.90 L143.88 75.85 L143.98 75.80 L144.08 75.75 L144.18 75.70 L144.28 75.65 L144.38 75.60 L144.48 75.55 L144.58 75.50 L144.68 75.45 L144.78 75.41 L144.88 75.36 L144.98 75.31 L145.08 75.26 L145.18 75.21 L145.28 75.16 L145.38 75.11 L145.48 75.06 L145.58 75.01 L145.68 74.96 L145.78 74.91 L145.88 74.86 L145.98 74.81 L146.08 74.76 L146.18 74.71 L146.28 74.66 L146.38 74.61 L146.48 74.56 L146.58 74.51 L146.68 74.46 L146.78 74.41 L146.88 74.36 L146.98 74.31 L147.08 74.26 L147.18 74.21 L147.28 74.16 L147.38 74.11 L147.48 74.06 L147.58 74.01 L147.68 73.96 L147.78 73.91 L147.88 73.86 L147.98 73.81 L148.08 73.76 L148.18 73.71 L148.28 73.66 L148.38 73.62 L148.48 73.57 L148.58 73.52 L148.68 73.47 L148.78 73.42 L148.88 73.37 L148.98 73.32 L149.08 73.27 L149.18 73.22 L149.28 73.17 L149.38 73.12 L149.48 73.07 L149.58 73.02 L149.68 72.97 L149.78 72.92 L149.88 72.87 L149.98 72.82 L150.08 72.77 L150.18 72.72 L150.28 72.67 L150.38 72.62 L150.48 72.57 L150.58 72.52 L150.68 72.47 L150.78 72.42 L150.88 72.37 L150.98 72.32 L151.08 72.27 L151.18 72.22 L151.28 72.17 L151.38 72.12 L151.48 72.07 L151.58 72.02 L151.68 71.97 L151.78 71.92 L151.88 71.87 L151.98 71.82 L152.08 71.77 L152.18 71.72 L152.28 71.67 L152.38 71.62 L152.48 71.57 L152.58 71.52 L152.68 71.47 L152.78 71.42 L152.88 71.37 L152.98 71.32 L153.08 71.27 L153.18 71.22 L153.28 71.17 L153.38 71.12 L153.48 71.07 L153.58 71.02 L153.68 70.97 L153.78 70.92 L153.88 70.87 L153.98 70.82 L154.08 70.76 L154.18 70.71 L154.28 70.66 L154.38 70.61 L154.48 70.56 L154.58 70.51 L154.68 70.46 L154.78 70.41 L154.88 70.36 L154.98 70.31 L155.08 70.26 L155.18 70.21 L155.28 70.16 L155.38 70.11 L155.48 70.06 L155.58 70.01 L155.68 69.96 L155.78 69.91 L155.88 69.86 L155.98 69.81 L156.08 69.76 L156.18 69.71 L156.28 69.66 L156.38 69.61 L156.48 69.56 L156.58 69.51 L156.68 69.46 L156.78 69.41 L156.88 69.36 L156.98 69.31 L157.08 69.26 L157.18 69.21 L157.28 69.16 L157.38 69.11 L157.48 69.06 L157.58 69.01 L157.68 68.96 L157.78 68.91 L157.88 68.85 L157.98 68.80 L158.08 68.75 L158.18 68.70 L158.28 68.65 L158.38 68.60 L158.48 68.55 L158.58 68.50 L158.68 68.45 L158.78 68.40 L158.88 68.35 L158.98 68.30 L159.08 68.25 L159.18 68.20 L159.28 68.15 L159.38 68.10 L159.48 68.05 L159.58 68.00 L159.68 67.95 L159.78 67.90 L159.88 67.85 L159.98 67.80 L160.08 67.75 L160.18 67.70 L160.28 67.64 L160.38 67.59 L160.48 67.54 L160.58 67.49 L160.68 67.44 L160.78 67.39 L160.88 67.34 L160.98 67.29 L161.08 67.24 L161.18 67.19 L161.28 67.14 L161.38 67.09 L161.48 67.04 L161.58 66.99 L161.68 66.94 L161.78 66.89 L161.88 66.84 L161.98 66.79 L162.08 66.74 L162.18 66.68 L162.28 66.63 L162.38 66.58 L162.48 66.53 L162.58 66.48 L162.68 66.43 L162.78 66.38 L162.88 66.33 L162.98 66.28 L163.08 66.23 L163.18 66.18 L163.28 66.13 L163.38 66.08 L163.48 66.03 L163.58 65.98 L163.68 65.93 L163.78 65.88 L163.88 65.82 L163.98 65.77 L164.08 65.72 L164.18 65.67 L164.28 65.62 L164.38 65.57 L164.48 65.52 L164.58 65.47 L164.68 65.42 L164.78 65.37 L164.88 65.32 L164.98 65.27 L165.08 65.22 L165.18 65.17 L165.28 65.12 L165.38 65.06 L165.48 65.01 L165.58 64.96 L165.68 64.91 L165.78 64.86 L165.88 64.81 L165.98 64.76 L166.08 64.71 L166.18 64.66 L166.28 64.61 L166.38 64.56 L166.48 64.51 L166.58 64.46 L166.68 64.40 L166.78 64.35 L166.88 64.30 L166.98 64.25 L167.08 64.20 L167.18 64.15 L167.28 64.10 L167.38 64.05 L167.48 64.00 L167.58 63.95 L167.68 63.90 L167.78 63.85 L167.88 63.80 L167.98 63.74 L168.08 63.69 L168.18 63.64 L168.28 63.59 L168.38 63.54 L168.48 63.49 L168.58 63.44 L168.68 63.39 L168.78 63.34 L168.88 63.29 L168.98 63.24 L169.08 63.19 L169.18 63.13 L169.28 63.08 L169.38 63.03 L169.48 62.98 L169.58 62.93 L169.68 62.88 L169.78 62.83 L169.88 62.78 L169.98 62.73 L170.08 62.68 L170.18 62.63 L170.28 62.57 L170.38 62.52 L170.48 62.47 L170.58 62.42 L170.68 62.37 L170.78 62.32 L170.88 62.27 L170.98 62.22 L171.08 62.17 L171.18 62.12 L171.28 62.07 L171.38 62.01 L171.48 61.96 L171.58 61.91 L171.68 61.86 L171.78 61.81 L171.88 61.76 L171.98 61.71 L172.08 61.66 L172.18 61.61 L172.28 61.56 L172.38 61.51 L172.48 61.45 L172.58 61.40 L172.68 61.35 L172.78 61.30 L172.88 61.25 L172.98 61.20 L173.08 61.15 L173.18 61.10 L173.28 61.05 L173.38 61.00 L173.48 60.94 L173.58 60.89 L173.68 60.84 L173.78 60.79 L173.88 60.74 L173.98 60.69 L174.08 60.64 L174.18 60.59 L174.28 60.54 L174.38 60.48 L174.48 60.43 L174.58 60.38 L174.68 60.33 L174.78 60.28 L174.88 60.23 L174.98 60.18 L175.08 60.13 L175.18 60.08 L175.28 60.03 L175.38 59.97 L175.48 59.92 L175.58 59.87 L175.68 59.82 L175.78 59.77 L175.88 59.72 L175.98 59.67 L176.08 59.62 L176.18 59.57 L176.28 59.51 L176.38 59.46 L176.48 59.41 L176.58 59.36 L176.68 59.31 L176.78 59.26 L176.88 59.21 L176.98 59.16 L177.08 59.11 L177.18 59.05 L177.28 59.00 L177.38 58.95 L177.48 58.90 L177.58 58.85 L177.68 58.80 L177.78 58.75 L177.88 58.70 L177.98 58.64 L178.08 58.59 L178.18 58.54 L178.28 58.49 L178.38 58.44 L178.48 58.39 L178.58 58.34 L178.68 58.29 L178.78 58.24 L178.88 58.18 L178.98 58.13 L179.08 58.08 L179.18 58.03 L179.28 57.98 L179.38 57.93 L179.48 57.88 L179.58 57.83 L179.68 57.77 L179.78 57.72 L179.88 57.67 L179.98 57.62 L180.08 57.57 L180.18 57.52 L180.28 57.47 L180.38 57.42 L180.48 57.36 L180.58 57.31 L180.68 57.26 L180.78 57.21 L180.88 57.16 L180.98 57.11 L181.08 57.06 L181.18 57.01 L181.28 56.95 L181.38 56.90 L181.48 56.85 L181.58 56.80 L181.68 56.75 L181.78 56.70 L181.88 56.65 L181.98 56.60 L182.08 56.54 L182.18 56.49 L182.28 56.44 L182.38 56.39 L182.48 56.34 L182.58 56.29 L182.68 56.24 L182.78 56.18 L182.88 56.13 L182.98 56.08 L183.08 56.03 L183.18 55.98 L183.28 55.93 L183.38 55.88 L183.48 55.83 L183.58 55.77 L183.68 55.72 L183.78 55.67 L183.88 55.62 L183.98 55.57 L184.08 55.52 L184.18 55.47 L184.28 55.41 L184.38 55.36 L184.48 55.31 L184.58 55.26 L184.68 55.21 L184.78 55.16 L184.88 55.11 L184.98 55.05 L185.08 55.00 L185.18 54.95 L185.28 54.90 L185.38 54.85 L185.48 54.80 L185.58 54.75 L185.68 54.69 L185.78 54.64 L185.88 54.59 L185.98 54.54 L186.08 54.49 L186.18 54.44 L186.28 54.39 L186.38 54.34 L186.48 54.28 L186.58 54.23 L186.68 54.18 L186.78 54.13 L186.88 54.08 L186.98 54.03 L187.08 53.97 L187.18 53.92 L187.28 53.87 L187.38 53.82 L187.48 53.77 L187.58 53.72 L187.68 53.67 L187.78 53.61 L187.88 53.56 L187.98 53.51 L188.08 53.46 L188.18 53.41 L188.28 53.36 L188.38 53.31 L188.48 53.25 L188.58 53.20 L188.68 53.15 L188.78 53.10 L188.88 53.05 L188.98 53.00 L189.08 52.95 L189.18 52.89 L189.28 52.84 L189.38 52.79 L189.48 52.74 L189.58 52.69 L189.68 52.64 L189.78 52.58 L189.88 52.53 L189.98 52.48 L190.08 52.43 L190.18 52.38 L190.28 52.33 L190.38 52.28 L190.48 52.22 L190.58 52.17 L190.68 52.12 L190.78 52.07 L190.88 52.02 L190.98 51.97 L191.08 51.91 L191.18 51.86 L191.28 51.81 L191.38 51.76 L191.48 51.71 L191.58 51.66 L191.68 51.61 L191.78 51.55 L191.88 51.50 L191.98 51.45 L192.08 51.40 L192.18 51.35 L192.28 51.30 L192.38 51.24 L192.48 51.19 L192.58 51.14 L192.68 51.09 L192.78 51.04 L192.88 50.99 L192.98 50.93 L193.08 50.88 L193.18 50.83 L193.28 50.78 L193.38 50.73 L193.48 50.68 L193.58 50.63 L193.68 50.57 L193.78 50.52 L193.88 50.47 L193.98 50.42 L194.08 50.37 L194.18 50.32 L194.28 50.26 L194.38 50.21 L194.48 50.16 L194.58 50.11 L194.68 50.06 L194.78 50.01 L194.88 49.95 L194.98 49.90 L195.08 49.85 L195.18 49.80 L195.28 49.75 L195.38 49.70 L195.48 49.64 L195.58 49.59 L195.68 49.54 L195.78 49.49 L195.88 49.44 L195.98 49.39 L196.08 49.33 L196.18 49.28 L196.28 49.23 L196.38 49.18 L196.48 49.13 L196.58 49.08 L196.68 49.02 L196.78 48.97 L196.88 48.92 L196.98 48.87 L197.08 48.82 L197.18 48.77 L197.28 48.71 L197.38 48.66 L197.48 48.61 L197.58 48.56 L197.68 48.51 L197.78 48.46 L197.88 48.40 L197.98 48.35 L198.08 48.30 L198.18 48.25 L198.28 48.20 L198.38 48.14 L198.48 48.09 L198.58 48.04 L198.68 47.99 L198.78 47.94 L198.88 47.89 L198.98 47.83 L199.08 47.78 L199.18 47.73 L199.28 47.68 L199.38 47.63 L199.48 47.58 L199.58 47.52 L199.68 47.47 L199.78 47.42 L199.88 47.37 L199.98 47.32 L200.08 47.27 L200.18 47.21 L200.28 47.16 L200.38 47.11 L200.48 47.06 L200.58 47.01 L200.68 46.95 L200.78 46.90 L200.88 46.85 L200.98 46.80 L201.08 46.75 L201.18 46.70 L201.28 46.64 L201.38 46.59 L201.48 46.54 L201.58 46.49 L201.68 46.44 L201.78 46.38 L201.88 46.33 L201.98 46.28 L202.08 46.23 L202.18 46.18 L202.28 46.13 L202.38 46.07 L202.48 46.02 L202.58 45.97 L202.68 45.92 L202.78 45.87 L202.88 45.81 L202.98 45.76 L203.08 45.71 L203.18 45.66 L203.28 45.61 L203.38 45.56 L203.48 45.50 L203.58 45.45 L203.68 45.40 L203.78 45.35 L203.88 45.30 L203.98 45.24 L204.08 45.19 L204.18 45.14 L204.28 45.09 L204.38 45.04 L204.48 44.99 L204.58 44.93 L204.68 44.88 L204.78 44.83 L204.88 44.78 L204.98 44.73 L205.08 44.67 L205.18 44.62 L205.28 44.57 L205.38 44.52 L205.48 44.47 L205.58 44.41 L205.68 44.36 L205.78 44.31 L205.88 44.26 L205.98 44.21 L206.08 44.16 L206.18 44.10 L206.28 44.05 L206.38 44.00 L206.48 43.95 L206.58 43.90 L206.68 43.84 L206.78 43.79 L206.88 43.74 L206.98 43.69 L207.08 43.64 L207.18 43.58 L207.28 43.53 L207.38 43.48 L207.48 43.43 L207.58 43.38 L207.68 43.32 L207.78 43.27 L207.88 43.22 L207.98 43.17 L208.08 43.12 L208.18 43.07 L208.28 43.01 L208.38 42.96 L208.48 42.91 L208.58 42.86 L208.68 42.81 L208.78 42.75 L208.88 42.70 L208.98 42.65 L209.08 42.60 L209.18 42.55 L209.28 42.49 L209.38 42.44 L209.48 42.39 L209.58 42.34 L209.68 42.29 L209.78 42.23 L209.88 42.18 L209.98 42.13 L210.08 42.08 L210.18 42.03 L210.28 41.97 L210.38 41.92 L210.48 41.87 L210.58 41.82 L210.68 41.77 L210.78 41.71 L210.88 41.66 L210.98 41.61 L211.08 41.56 L211.18 41.51 L211.28 41.45 L211.38 41.40 L211.48 41.35 L211.58 41.30 L211.68 41.25 L211.78 41.19 L211.88 41.14 L211.98 41.09 L212.08 41.04 L212.18 40.99 L212.28 40.93 L212.38 40.88 L212.48 40.83 L212.58 40.78 L212.68 40.73 L212.78 40.67 L212.88 40.62 L212.98 40.57 L213.08 40.52 L213.18 40.47 L213.28 40.41 L213.38 40.36 L213.48 40.31 L213.58 40.26 L213.68 40.21 L213.78 40.15 L213.88 40.10 L213.98 40.05 L214.08 40.00 L214.18 39.95 L214.28 39.89 L214.38 39.84 L214.48 39.79 L214.58 39.74 L214.68 39.69 L214.78 39.63 L214.88 39.58 L214.98 39.53 L215.08 39.48 L215.18 39.43 L215.28 39.37 L215.38 39.32 L215.48 39.27 L215.58 39.22 L215.68 39.17 L215.78 39.11 L215.88 39.06 L215.98 39.01 L216.08 38.96 L216.18 38.90 L216.28 38.85 L216.38 38.80 L216.48 38.75 L216.58 38.70 L216.68 38.64 L216.78 38.59 L216.88 38.54 L216.98 38.49 L217.08 38.44 L217.18 38.38 L217.28 38.33 L217.38 38.28 L217.48 38.23 L217.58 38.18 L217.68 38.12 L217.78 38.07 L217.88 38.02 L217.98 37.97 L218.08 37.91 L218.18 37.86 L218.28 37.81 L218.38 37.76 L218.48 37.71 L218.58 37.65 L218.68 37.60 L218.78 37.55 L218.88 37.50 L218.98 37.45 L219.08 37.39 L219.18 37.34 L219.28 37.29 L219.38 37.24 L219.48 37.19 L219.58 37.13 L219.68 37.08 L219.78 37.03 L219.88 36.98 L219.98 36.92 L220.08 36.87 L220.18 36.82 L220.28 36.77 L220.38 36.72 L220.48 36.66 L220.58 36.61 L220.68 36.56 L220.78 36.51 L220.88 36.46 L220.98 36.40 L221.08 36.35 L221.18 36.30 L221.28 36.25 L221.38 36.19 L221.48 36.14 L221.58 36.09 L221.68 36.04 L221.78 35.99 L221.88 35.93 L221.98 35.88 L222.08 35.83 L222.18 35.78 L222.28 35.72 L222.38 35.67 L222.48 35.62 L222.58 35.57 L222.68 35.52 L222.78 35.46 L222.88 35.41 L222.98 35.36 L223.08 35.31 L223.18 35.26 L223.28 35.20 L223.38 35.15 L223.48 35.10 L223.58 35.05 L223.68 34.99 L223.78 34.94 L223.88 34.89 L223.98 34.84 L224.08 34.79 L224.18 34.73 L224.28 34.68 L224.38 34.63 L224.48 34.58 L224.58 34.52 L224.68 34.47 L224.78 34.42 L224.88 34.37 L224.98 34.32 L225.08 34.26 L225.18 34.21 L225.28 34.16 L225.38 34.11 L225.48 34.05 L225.58 34.00 L225.68 33.95 L225.78 33.90 L225.88 33.85 L225.98 33.79 L226.08 33.74 L226.18 33.69 L226.28 33.64 L226.38 33.58 L226.48 33.53 L226.58 33.48 L226.68 33.43 L226.78 33.38 L226.88 33.32 L226.98 33.27 L227.08 33.22 L227.18 33.17 L227.28 33.11 L227.38 33.06 L227.48 33.01 L227.58 32.96 L227.68 32.91 L227.78 32.85 L227.88 32.80 L227.98 32.75 L228.08 32.70 L228.18 32.64 L228.28 32.59 L228.38 32.54 L228.48 32.49 L228.58 32.43 L228.68 32.38 L228.78 32.33 L228.88 32.28 L228.98 32.23 L229.08 32.17 L229.18 32.12 L229.28 32.07 L229.38 32.02 L229.48 31.96 L229.58 31.91 L229.68 31.86 L229.78 31.81 L229.88 31.76 L229.98 31.70 L230.08 31.65 L230.18 31.60 L230.28 31.55 L230.38 31.49 L230.48 31.44 L230.58 31.39 L230.68 31.34 L230.78 31.28 L230.88 31.23 L230.98 31.18 L231.08 31.13 L231.18 31.08 L231.28 31.02 L231.38 30.97 L231.48 30.92 L231.58 30.87 L231.68 30.81 L231.78 30.76 L231.88 30.71 L231.98 30.66 L232.08 30.60 L232.18 30.55 L232.28 30.50 L232.38 30.45 L232.48 30.40 L232.58 30.34 L232.68 30.29 L232.78 30.24 L232.88 30.19 L232.98 30.13 L233.08 30.08 L233.18 30.03 L233.28 29.98 L233.38 29.92 L233.48 29.87 L233.58 29.82 L233.68 29.77 L233.78 29.72 L233.88 29.66 L233.98 29.61 L234.08 29.56 L234.18 29.51 L234.28 29.45 L234.38 29.40 L234.48 29.35 L234.58 29.30 L234.68 29.24 L234.78 29.19 L234.88 29.14 L234.98 29.09 L235.08 29.03 L235.18 28.98 L235.28 28.93 L235.38 28.88 L235.48 28.83 L235.58 28.77 L235.68 28.72 L235.78 28.67 L235.88 28.62 L235.98 28.56 L236.08 28.51 L236.18 28.46 L236.28 28.41 L236.38 28.35 L236.48 28.30 L236.58 28.25 L236.68 28.20 L236.78 28.14 L236.88 28.09 L236.98 28.04 L237.08 27.99 L237.18 27.94 L237.28 27.88 L237.38 27.83 L237.48 27.78 L237.58 27.73 L237.68 27.67 L237.78 27.62 L237.88 27.57 L237.98 27.52 L238.08 27.46 L238.18 27.41 L238.28 27.36 L238.38 27.31 L238.48 27.25 L238.58 27.20 L238.68 27.15 L238.78 27.10 L238.88 27.04 L238.98 26.99 L239.08 26.94 L239.18 26.89 L239.28 26.83 L239.38 26.78 L239.48 26.73 L239.58 26.68 L239.68 26.63 L239.78 26.57 L239.88 26.52 L239.98 26.47 L240.08 26.42 L240.18 26.36 L240.28 26.31 L240.38 26.26 L240.48 26.21 L240.58 26.15 L240.68 26.10 L240.78 26.05 L240.88 26.00 L240.98 25.94 L241.08 25.89 L241.18 25.84 L241.28 25.79 L241.38 25.73 L241.48 25.68 L241.58 25.63 L241.68 25.58 L241.78 25.52 L241.88 25.47 L241.98 25.42 L242.08 25.37 L242.18 25.31 L242.28 25.26 L242.38 25.21 L242.48 25.16 L242.58 25.10 L242.68 25.05 L242.78 25.00 L242.88 24.95 L242.98 24.89 L243.08 24.84 L243.18 24.79 L243.28 24.74 L243.38 24.69 L243.48 24.63 L243.58 24.58 L243.68 24.53 L243.78 24.48 L243.88 24.42 L243.98 24.37 L244.08 24.32 L244.18 24.27 L244.28 24.21 L244.38 24.16 L244.48 24.11 L244.58 24.06 L244.68 24.00 L244.78 23.95 L244.88 23.90 L244.98 23.85 L245.08 23.79 L245.18 23.74 L245.28 23.69 L245.38 23.64 L245.48 23.58 L245.58 23.53 L245.68 23.48 L245.78 23.43 L245.88 23.37 L245.98 23.32 L246.08 23.27 L246.18 23.22 L246.28 23.16 L246.38 23.11 L246.48 23.06 L246.58 23.01 L246.68 22.95 L246.78 22.90 L246.88 22.85 L246.98 22.80 L247.08 22.74 L247.18 22.69 L247.28 22.64 L247.38 22.59 L247.48 22.53 L247.58 22.48 L247.68 22.43 L247.78 22.38 L247.88 22.32 L247.98 22.27 L248.08 22.22 L248.18 22.17 L248.28 22.11 L248.38 22.06 L248.48 22.01 L248.58 21.96 L248.68 21.90 L248.78 21.85 L248.88 21.80 L248.98 21.75 L249.08 21.69 L249.18 21.64 L249.28 21.59 L249.38 21.54 L249.48 21.48 L249.58 21.43 L249.68 21.38 L249.78 21.33 L249.88 21.27 L249.98 21.22 L250.08 21.17 L250.18 21.12 L250.28 21.06 L250.38 21.01 L250.48 20.96 L250.58 20.91 L250.68 20.85 L250.78 20.80 L250.88 20.75 L250.98 20.70 L251.08 20.64 L251.18 20.59 L251.28 20.54 L251.38 20.49 L251.48 20.43 L251.58 20.38 L251.68 20.33 L251.78 20.28 L251.88 20.22 L251.98 20.17 L252.08 20.12 L252.18 20.07 L252.28 20.01 L252.38 19.96 L252.48 19.91 L252.58 19.85 L252.68 19.80 L252.78 19.75 L252.88 19.70 L252.98 19.64 L253.08 19.59 L253.18 19.54 L253.28 19.49 L253.38 19.43 L253.48 19.38 L253.58 19.33 L253.68 19.28 L253.78 19.22 L253.88 19.17 L253.98 19.12 L254.08 19.07 L254.18 19.01 L254.28 18.96 L254.38 18.91 L254.48 18.86 L254.58 18.80 L254.68 18.75 L254.78 18.70 L254.88 18.65 L254.98 18.59 L255.08 18.54 L255.18 18.49 L255.28 18.44 L255.38 18.38 L255.48 18.33 L255.58 18.28 L255.68 18.23 L255.78 18.17 L255.88 18.12 L255.98 18.07 L256.08 18.01 L256.18 17.96 L256.28 17.91 L256.38 17.86 L256.48 17.80 L256.58 17.75 L256.68 17.70 L256.78 17.65 L256.88 17.59 L256.98 17.54 L257.08 17.49 L257.18 17.44 L257.28 17.38 L257.38 17.33 L257.48 17.28 L257.58 17.23 L257.68 17.17 L257.78 17.12 L257.88 17.07 L257.98 17.02 L258.08 16.96 L258.18 16.91 L258.28 16.86 L258.38 16.81 L258.48 16.75 L258.58 16.70 L258.68 16.65 L258.78 16.59 L258.88 16.54 L258.98 16.49 L259.08 16.44 L259.18 16.38 L259.28 16.33 L259.38 16.28 L259.48 16.23 L259.58 16.17 L259.68 16.12 L259.78 16.07 L259.88 16.02 L259.98 15.96 L260.08 15.91 L260.18 15.86 L260.28 15.81 L260.38 15.75 L260.48 15.70 L260.58 15.65 L260.68 15.60 L260.78 15.54 L260.88 15.49 L260.98 15.44 L261.08 15.38 L261.18 15.33 L261.28 15.28 L261.38 15.23 L261.48 15.17 L261.58 15.12 L261.68 15.07 L261.78 15.02 L261.88 14.96 L261.98 14.91 L262.08 14.86 L262.18 14.81 L262.28 14.75 L262.38 14.70 L262.48 14.65 L262.58 14.59 L262.68 14.54 L262.78 14.49 L262.88 14.44 L262.98 14.38 L263.08 14.33 L263.18 14.28 L263.28 14.23 L263.38 14.17 L263.48 14.12 L263.58 14.07 L263.68 14.02 L263.78 13.96 L263.88 13.91 L263.98 13.86 L264.08 13.81 L264.18 13.75 L264.28 13.70 L264.38 13.65 L264.48 13.59 L264.58 13.54 L264.68 13.49 L264.78 13.44 L264.88 13.38 L264.98 13.33 L265.08 13.28 L265.18 13.23 L265.28 13.17 L265.38 13.12 L265.48 13.07 L265.58 13.02 L265.68 12.96 L265.78 12.91 L265.88 12.86 L265.98 12.80 L266.08 12.75 L266.18 12.70 L266.28 12.65 L266.38 12.59 L266.48 12.54 L266.58 12.49 L266.68 12.44 L266.78 12.38 L266.88 12.33 L266.98 12.28 L267.08 12.22 L267.18 12.17 L267.28 12.12 L267.38 12.07 L267.48 12.01 L267.58 11.96 L267.68 11.91 L267.78 11.86 L267.88 11.80 L267.98 11.75 L268.08 11.70 L268.18 11.65 L268.28 11.59 L268.38 11.54 L268.48 11.49 L268.58 11.43 L268.68 11.38 L268.78 11.33 L268.88 11.28 L268.98 11.22 L269.08 11.17 L269.18 11.12 L269.28 11.07 L269.38 11.01 L269.48 10.96 L269.58 10.91 L269.68 10.85 L269.78 10.80 L269.88 10.75 L269.98 10.70 L270.08 10.64 L270.18 10.59 L270.28 10.54 L270.38 10.49 L270.48 10.43 L270.58 10.38 L270.68 10.33 L270.78 10.28 L270.88 10.22 L270.98 10.17 L271.08 10.12 L271.18 10.06 L271.28 10.01 L271.38 9.96 L271.48 9.91 L271.58 9.85 L271.68 9.80 L271.78 9.75 L271.88 9.70 L271.98 9.64 L272.08 9.59 L272.18 9.54 L272.28 9.48 L272.38 9.43 L272.48 9.38 L272.58 9.33 L272.68 9.27 L272.78 9.22 L272.88 9.17 L272.98 9.12 L273.08 9.06 L273.18 9.01 L273.28 8.96 L273.38 8.90 L273.48 8.85 L273.58 8.80 L273.68 8.75 L273.78 8.69 L273.88 8.64 L273.98 8.59 L274.08 8.54 L274.18 8.48 L274.28 8.43 L274.38 8.38 L274.48 8.32 L274.58 8.27 L274.68 8.22 L274.78 8.17 L274.88 8.11 L274.98 8.06 L275.08 8.01 L275.18 7.95 L275.28 7.90 L275.38 7.85 L275.48 7.80 L275.58 7.74 L275.68 7.69 L275.78 7.64 L275.88 7.59 L275.98 7.53 L276.08 7.48 L276.18 7.43 L276.28 7.37 L276.38 7.32 L276.48 7.27 L276.58 7.22 L276.68 7.16 L276.78 7.11 L276.88 7.06 L276.98 7.01 L277.08 6.95 L277.18 6.90 L277.28 6.85 L277.38 6.79 L277.48 6.74 L277.58 6.69 L277.68 6.64 L277.78 6.58 L277.88 6.53 L277.98 6.48 L278.08 6.42 L278.18 6.37 L278.28 6.32 L278.38 6.27 L278.48 6.21 L278.58 6.16 L278.68 6.11 L278.78 6.06 L278.88 6.00 L278.98 5.95 L279.08 5.90 L279.18 5.84 L279.28 5.79 L279.38 5.74 L279.48 5.69 L279.58 5.63 L279.68 5.58 L279.78 5.53 L279.88 5.47 L279.98 5.42 L280.08 5.37 L280.18 5.32 L280.28 5.26 L280.38 5.21 L280.48 5.16 L280.58 5.11 L280.68 5.05 L280.78 5.00 L280.88 4.95 L280.98 4.89 L281.08 4.84 L281.18 4.79 L281.28 4.74 L281.38 4.68 L281.48 4.63 L281.58 4.58 L281.68 4.52 L281.78 4.47 L281.88 4.42 L281.98 4.37 L282.08 4.31 L282.18 4.26 L282.28 4.21 L282.38 4.16 L282.48 4.10 L282.58 4.05 L282.68 4.00 L282.78 3.94 L282.88 3.89 L282.98 3.84 L283.08 3.79 L283.18 3.73 L283.28 3.68 L283.38 3.63 L283.48 3.57 L283.58 3.52 L283.68 3.47 L283.78 3.42 L283.88 3.36 L283.98 3.31 L284.08 3.26 L284.18 3.20 L284.28 3.15 L284.38 3.10 L284.48 3.05 L284.58 2.99 L284.68 2.94 L284.78 2.89 L284.88 2.83 L284.98 2.78 L285.08 2.73 L285.18 2.68 L285.28 2.62 L285.38 2.57 L285.48 2.52 L285.58 2.47 L285.68 2.41 L285.78 2.36 L285.88 2.31 L285.98 2.25 L286.08 2.20 L286.18 2.15 L286.28 2.10 L286.38 2.04 L286.48 1.99 L286.58 1.94 L286.68 1.88 L286.78 1.83 L286.88 1.78 L286.98 1.73 L287.08 1.67 L287.18 1.62 L287.28 1.57 L287.38 1.51 L287.48 1.46 L287.58 1.41 L287.68 1.36 L287.78 1.30 L287.88 1.25 L287.98 1.20 L288.08 1.14 L288.18 1.09 L288.28 1.04 L288.38 0.99 L288.48 0.93 L288.58 0.88 L288.68 0.83 L288.78 0.77 L288.88 0.72 L288.98 0.67 L289.08 0.62 L289.18 0.56 L289.28 0.51 L289.38 0.46 L289.48 0.40 L289.58 0.35 L289.68 0.30 L289.78 0.25 L289.88 0.19 L289.98 0.14 L290.08 0.09 L290.18 0.03 L290.28 -0.02 L290.38 -0.07 L290.48 -0.12 L290.58 -0.18 L290.68 -0.23 L290.78 -0.28 L290.88 -0.34 L290.98 -0.39 L291.08 -0.44 L291.18 -0.49 L291.28 -0.55 L291.38 -0.60 L291.48 -0.65 L291.58 -0.71 L291.68 -0.76 L291.78 -0.81 L291.88 -0.86 L291.98 -0.92 L292.08 -0.97 L292.18 -1.02 L292.28 -1.08 L292.38 -1.13 L292.48 -1.18 L292.58 -1.23 L292.68 -1.29 L292.78 -1.34 L292.88 -1.39 L292.98 -1.45 L293.08 -1.50 L293.18 -1.55 L293.28 -1.60 L293.38 -1.66 L293.48 -1.71 L293.58 -1.76 L293.68 -1.82 L293.78 -1.87 L293.88 -1.92 L293.98 -1.97 L294.08 -2.03 L294.18 -2.08 L294.28 -2.13 L294.38 -2.19 L294.48 -2.24 L294.58 -2.29 L294.68 -2.34 L294.78 -2.40 L294.88 -2.45 L294.98 -2.50 L295.08 -2.56 L295.18 -2.61 L295.28 -2.66 L295.38 -2.71 L295.48 -2.77 L295.58 -2.82 L295.68 -2.87 L295.78 -2.93 L295.88 -2.98 L295.98 -3.03 L296.08 -3.08 L296.18 -3.14 L296.28 -3.19 L296.38 -3.24 L296.48 -3.30 L296.58 -3.35 L296.68 -3.40 L296.78 -3.46 L296.88 -3.51 L296.98 -3.56 L297.08 -3.61 L297.18 -3.67 L297.28 -3.72 L297.38 -3.77 L297.48 -3.83 L297.58 -3.88 L297.68 -3.93 L297.78 -3.98 L297.88 -4.04 L297.98 -4.09 L298.08 -4.14 L298.18 -4.20 L298.28 -4.25 L298.38 -4.30 L298.48 -4.35 L298.58 -4.41 L298.68 -4.46 L298.78 -4.51 L298.88 -4.57 L298.98 -4.62 L299.08 -4.67 L299.18 -4.72 L299.28 -4.78 L299.38 -4.83 L299.48 -4.88 L299.58 -4.94 L299.68 -4.99 L299.78 -5.04 L299.88 -5.09 L299.98 -5.15" stroke="#ff00ff" stroke-width="2" stroke-dasharray="4 1.7 1 1.1 1 1.8"/>
<path d="M28.50 263.34 L29.00 252.12 L29.50 242.72 L30.00 234.72 L30.50 227.83 L31.00 221.83 L31.50 216.54 L32.00 211.84 L32.50 207.63 L33.00 203.84 L33.50 200.39 L34.00 197.26 L34.50 194.38 L35.00 191.73 L35.50 189.28 L36.00 187.00 L36.50 184.88 L37.00 182.89 L37.50 181.03 L38.00 179.28 L38.50 177.62 L39.00 176.06 L39.50 174.57 L40.00 173.16 L40.50 171.82 L41.00 170.54 L41.50 169.31 L42.00 168.14 L42.50 167.02 L43.00 165.93 L43.50 164.89 L44.00 163.89 L44.50 162.92 L45.00 161.98 L45.50 161.08 L46.00 160.20 L46.50 159.35 L47.00 158.53 L47.50 157.72 L48.00 156.94 L48.50 156.18 L49.00 155.44 L49.50 154.72 L50.00 154.01 L50.50 153.32 L51.00 152.65 L51.50 151.99 L52.00 151.34 L52.50 150.71 L53.00 150.09 L53.50 149.48 L54.00 148.88 L54.50 148.29 L55.00 147.72 L55.50 147.15 L56.00 146.59 L56.50 146.04 L57.00 145.50 L57.50 144.97 L58.00 144.44 L58.50 143.92 L59.00 143.41 L59.50 142.91 L60.00 142.41 L60.50 141.92 L61.00 141.43 L61.50 140.95 L62.00 140.48 L62.50 140.01 L63.00 139.55 L63.50 139.09 L64.00 138.63 L64.50 138.18 L65.00 137.74 L65.50 137.29 L66.00 136.86 L66.50 136.42 L67.00 135.99 L67.50 135.57 L68.00 135.15 L68.50 134.73 L69.00 134.31 L69.50 133.90 L70.00 133.49 L70.50 133.08 L71.00 132.68 L71.50 132.28 L72.00 131.88 L72.50 131.49 L73.00 131.09 L73.50 130.70 L74.00 130.32 L74.50 129.93 L75.00 129.55 L75.50 129.17 L76.00 128.79 L76.50 128.41 L77.00 128.03 L77.50 127.66 L78.00 127.29 L78.50 126.92 L79.00 126.56 L79.50 126.19 L80.00 125.83 L80.50 125.46 L81.00 125.10 L81.50 124.74 L82.00 124.39 L82.50 124.03 L83.00 123.68 L83.50 123.32 L84.00 122.97 L84.50 122.62 L85.00 122.27 L85.50 121.93 L86.00 121.58 L86.50 121.23 L87.00 120.89 L87.50 120.55 L88.00 120.21 L88.50 119.87 L89.00 119.53 L89.50 119.19 L90.00 118.85 L90.50 118.52 L91.00 118.18 L91.50 117.85 L92.00 117.51 L92.50 117.18 L93.00 116.85 L93.50 116.52 L94.00 116.19 L94.50 115.86 L95.00 115.53 L95.50 115.21 L96.00 114.88 L96.50 114.55 L97.00 114.23 L97.50 113.91 L98.00 113.58 L98.50 113.26 L99.00 112.94 L99.50 112.62 L100.00 112.30 L100.50 111.98 L101.00 111.66 L101.50 111.34 L102.00 111.02 L102.50 110.71 L103.00 110.39 L103.50 110.07 L104.00 109.76 L104.50 109.44 L105.00 109.13 L105.50 108.82 L106.00 108.50 L106.50 108.19 L107.00 107.88 L107.50 107.57 L108.00 107.26 L108.50 106.94 L109.00 106.64 L109.50 106.33 L110.00 106.02 L110.50 105.71 L111.00 105.40 L111.50 105.09 L112.00 104.79 L112.50 104.48 L113.00 104.17 L113.50 103.87 L114.00 103.56 L114.50 103.26 L115.00 102.95 L115.50 102.65 L116.00 102.34 L116.50 102.04 L117.00 101.74 L117.50 101.43 L118.00 101.13 L118.50 100.83 L119.00 100.53 L119.50 100.23 L120.00 99.92 L120.50 99.62 L121.00 99.32 L121.50 99.02 L122.00 98.72 L122.50 98.42 L123.00 98.13 L123.50 97.83 L124.00 97.53 L124.50 97.23 L125.00 96.93 L125.50 96.63 L126.00 96.34 L126.50 96.04 L127.00 95.74 L127.50 95.45 L128.00 95.15 L128.50 94.85 L129.00 94.56 L129.50 94.26 L130.00 93.97 L130.50 93.67 L131.00 93.38 L131.50 93.08 L132.00 92.79 L132.50 92.50 L133.00 92.20 L133.50 91.91 L134.00 91.62 L134.50 91.32 L135.00 91.03 L135.50 90.74 L136.00 90.44 L136.50 90.15 L137.00 89.86 L137.50 89.57 L138.00 89.28 L138.50 88.99 L139.00 88.69 L139.50 88.40 L140.00 88.11 L140.50 87.82 L141.00 87.53 L141.50 87.24 L142.00 86.95 L142.50 86.66 L143.00 86.37 L143.50 86.08 L144.00 85.79 L144.50 85.50 L145.00 85.21 L145.50 84.93 L146.00 84.64 L146.50 84.35 L147.00 84.06 L147.50 83.77 L148.00 83.48 L148.50 83.20 L149.00 82.91 L149.50 82.62 L150.00 82.33 L150.50 82.05 L151.00 81.76 L151.50 81.47 L152.00 81.19 L152.50 80.90 L153.00 80.61 L153.50 80.33 L154.00 80.04 L154.50 79.75 L155.00 79.47 L155.50 79.18 L156.00 78.90 L156.50 78.61 L157.00 78.32 L157.50 78.04 L158.00 77.75 L158.50 77.47 L159.00 77.18 L159.50 76.90 L160.00 76.61 L160.50 76.33 L161.00 76.05 L161.50 75.76 L162.00 75.48 L162.50 75.19 L163.00 74.91 L163.50 74.62 L164.00 74.34 L164.50 74.06 L165.00 73.77 L165.50 73.49 L166.00 73.21 L166.50 72.92 L167.00 72.64 L167.50 72.36 L168.00 72.07 L168.50 71.79 L169.00 71.51 L169.50 71.23 L170.00 70.94 L170.50 70.66 L171.00 70.38 L171.50 70.10 L172.00 69.81 L172.50 69.53 L173.00 69.25 L173.50 68.97 L174.00 68.69 L174.50 68.40 L175.00 68.12 L175.50 67.84 L176.00 67.56 L176.50 67.28 L177.00 67.00 L177.50 66.72 L178.00 66.43 L178.50 66.15 L179.00 65.87 L179.50 65.59 L180.00 65.31 L180.50 65.03 L181.00 64.75 L181.50 64.47 L182.00 64.19 L182.50 63.91 L183.00 63.63 L183.50 63.35 L184.00 63.07 L184.50 62.79 L185.00 62.51 L185.50 62.23 L186.00 61.95 L186.50 61.67 L187.00 61.39 L187.50 61.11 L188.00 60.83 L188.50 60.55 L189.00 60.27 L189.50 59.99 L190.00 59.71 L190.50 59.43 L191.00 59.15 L191.50 58.87 L192.00 58.59 L192.50 58.31 L193.00 58.03 L193.50 57.75 L194.00 57.48 L194.50 57.20 L195.00 56.92 L195.50 56.64 L196.00 56.36 L196.50 56.08 L197.00 55.80 L197.50 55.53 L198.00 55.25 L198.50 54.97 L199.00 54.69 L199.50 54.41 L200.00 54.13 L200.50 53.86 L201.00 53.58 L201.50 53.30 L202.00 53.02 L202.50 52.74 L203.00 52.47 L203.50 52.19 L204.00 51.91 L204.50 51.63 L205.00 51.35 L205.50 51.08 L206.00 50.80 L206.50 50.52 L207.00 50.24 L207.50 49.97 L208.00 49.69 L208.50 49.41 L209.00 49.14 L209.50 48.86 L210.00 48.58 L210.50 48.30 L211.00 48.03 L211.50 47.75 L212.00 47.47 L212.50 47.20 L213.00 46.92 L213.50 46.64 L214.00 46.37 L214.50 46.09 L215.00 45.81 L215.50 45.53 L216.00 45.26 L216.50 44.98 L217.00 44.70 L217.50 44.43 L218.00 44.15 L218.50 43.88 L219.00 43.60 L219.50 43.32 L220.00 43.05 L220.50 42.77 L221.00 42.49 L221.50 42.22 L222.00 41.94 L222.50 41.67 L223.00 41.39 L223.50 41.11 L224.00 40.84 L224.50 40.56 L225.00 40.29 L225.50 40.01 L226.00 39.73 L226.50 39.46 L227.00 39.18 L227.50 38.91 L228.00 38.63 L228.50 38.35 L229.00 38.08 L229.50 37.80 L230.00 37.53 L230.50 37.25 L231.00 36.98 L231.50 36.70 L232.00 36.43 L232.50 36.15 L233.00 35.88 L233.50 35.60 L234.00 35.32 L234.50 35.05 L235.00 34.77 L235.50 34.50 L236.00 34.22 L236.50 33.95 L237.00 33.67 L237.50 33.40 L238.00 33.12 L238.50 32.85 L239.00 32.57 L239.50 32.30 L240.00 32.02 L240.50 31.75 L241.00 31.47 L241.50 31.20 L242.00 30.92 L242.50 30.65 L243.00 30.37 L243.50 30.10 L244.00 29.82 L244.50 29.55 L245.00 29.28 L245.50 29.00 L246.00 28.73 L246.50 28.45 L247.00 28.18 L247.50 27.90 L248.00 27.63 L248.50 27.35 L249.00 27.08 L249.50 26.80 L250.00 26.53 L250.50 26.26 L251.00 25.98 L251.50 25.71 L252.00 25.43 L252.50 25.16 L253.00 24.88 L253.50 24.61 L254.00 24.34 L254.50 24.06 L255.00 23.79 L255.50 23.51 L256.00 23.24 L256.50 22.97 L257.00 22.69 L257.50 22.42 L258.00 22.14 L258.50 21.87 L259.00 21.60 L259.50 21.32 L260.00 21.05 L260.50 20.77 L261.00 20.50 L261.50 20.23 L262.00 19.95 L262.50 19.68 L263.00 19.40 L263.50 19.13 L264.00 18.86 L264.50 18.58 L265.00 18.31 L265.50 18.04 L266.00 17.76 L266.50 17.49 L267.00 17.22 L267.50 16.94 L268.00 16.67 L268.50 16.39 L269.00 16.12 L269.50 15.85 L270.00 15.57 L270.50 15.30 L271.00 15.03 L271.50 14.75 L272.00 14.48 L272.50 14.21 L273.00 13.93 L273.50 13.66 L274.00 13.39 L274.50 13.11 L275.00 12.84 L275.50 12.57 L276.00 12.29 L276.50 12.02 L277.00 11.75 L277.50 11.47 L278.00 11.20 L278.50 10.93 L279.00 10.66 L279.50 10.38 L280.00 10.11 L280.50 9.84 L281.00 9.56 L281.50 9.29 L282.00 9.02 L282.50 8.74 L283.00 8.47 L283.50 8.20 L284.00 7.92 L284.50 7.65 L285.00 7.38 L285.50 7.11 L286.00 6.83 L286.50 6.56 L287.00 6.29 L287.50 6.01 L288.00 5.74 L288.50 5.47 L289.00 5.20 L289.50 4.92 L290.00 4.65 L290.50 4.38 L291.00 4.11 L291.50 3.83 L292.00 3.56 L292.50 3.29 L293.00 3.01 L293.50 2.74 L294.00 2.47 L294.50 2.20 L295.00 1.92 L295.50 1.65 L296.00 1.38 L296.50 1.11 L297.00 0.83 L297.50 0.56 L298.00 0.29 L298.50 0.02 L299.00 -0.26 L299.50 -0.53 L300.00 -0.80" stroke="#ff4d0a" stroke-width="2.1" stroke-dasharray="1.15 3.78"/>
</g>
<g fill="none">
<path d="M305.3 165.55 H348.7" stroke="#ff0000" stroke-width="2.15"/>
<path d="M305.3 180.65 H348.7" stroke="#0000ff" stroke-width="2" stroke-dasharray="4.25 3.5"/>
<path d="M305.3 195.75 H348.7" stroke="#ff00ff" stroke-width="2" stroke-dasharray="4 1.7 1 1.1 1 1.8"/>
<path d="M306.05 211.0 H348.7" stroke="#ff4d0a" stroke-width="2.1" stroke-dasharray="1.15 3.78"/>
</g>
<text x="298.8" y="170.8" text-anchor="end">standard photon</text>
<text x="298.8" y="186.1" text-anchor="end">massive photon</text>
<text x="298.8" y="201.2" text-anchor="end">scalar in NC space</text>
<text x="302.0" y="217.9" text-anchor="end">photon in NC space (1−loop result)</text>
<text x="144" y="255.0">momentum</text>
<text x="230.7" y="255.0">p</text>
<text transform="translate(13.7 93.0) rotate(-90)">energy</text>
<text transform="translate(13.6 36.4) rotate(-90)" style="font-size:16.8px">E</text>
<text x="0" y="130.8">m</text>
<path d="M12.2 130.9 C12.5 129.3 14.1 129.0 14.7 130.9 L15.6 135.8 L15.4 137.9" fill="none" stroke="#222" stroke-width="1.1" stroke-linecap="round" stroke-linejoin="round"/><path d="M18 129.6 L15.6 136.0" fill="none" stroke="#222" stroke-width="0.8" stroke-linecap="round"/>
<text x="6.8" y="150.8">0</text>
</svg>
</body></html>
